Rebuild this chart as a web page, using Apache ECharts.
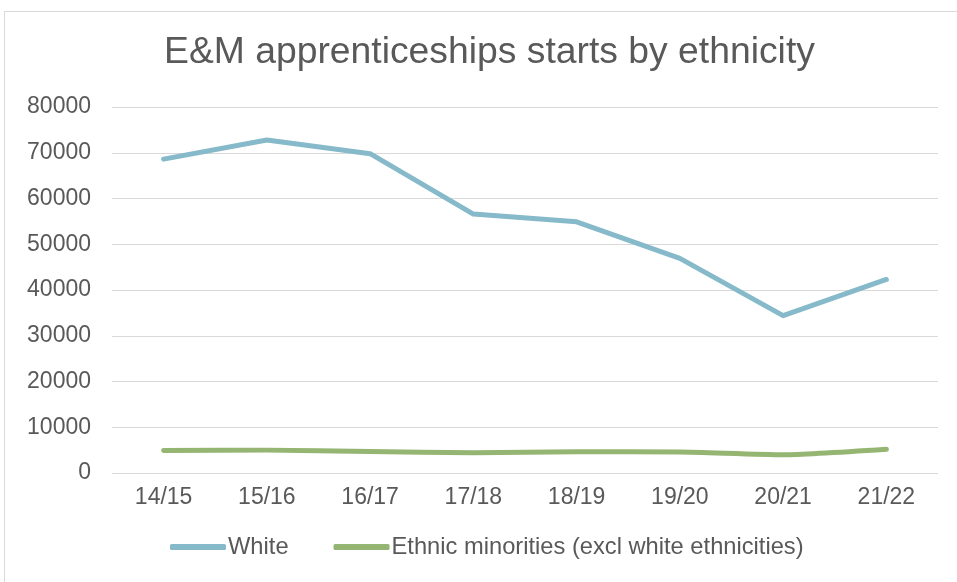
<!DOCTYPE html>
<html>
<head>
<meta charset="utf-8">
<style>
  html, body { margin: 0; padding: 0; background: #fff; }
  #frame { position: absolute; left: 4px; top: 11px; width: 960px; height: 580px; border: 1px solid #d9d9d9; box-sizing: border-box; }
  #chart { position: absolute; left: 0; top: 0; width: 957px; height: 582px; }
</style>
<script src="https://cdn.jsdelivr.net/npm/echarts@6/dist/echarts.min.js"></script>
</head>
<body>
<div id="frame"></div>
<div id="chart"></div>
<script>
// 年度
const years = ["14/15", "15/16", "16/17", "17/18", "18/19", "19/20", "20/21", "21/22"];
// 白人
const whiteStarts = [68600, 72800, 69800, 56600, 54900, 46900, 34400, 42300];
// 少数族裔
const minorityStarts = [4900, 5000, 4700, 4400, 4650, 4600, 4000, 5200];
const yTicks = [0, 80000, 10000]; // min, max, interval

const textColor = "#595959";
const font = "'Liberation Sans', Arial, sans-serif";

const chart = echarts.init(document.getElementById("chart"));

const option = {
  backgroundColor: "transparent",
  animation: false,
  title: {
    text: "E&M apprenticeships starts by ethnicity",
    left: 159,
    top: 29,
    textStyle: { color: textColor, fontSize: 37.3, fontWeight: "normal", fontFamily: font },
  },
  legend: {
    bottom: 18,
    left: 165,
    itemWidth: 56,
    itemHeight: 6,
    itemGap: 45,
    icon: "roundRect",
    textStyle: { color: textColor, fontSize: 23.7, fontFamily: font, padding: [0, 0, 0, -3] },
    data: ["White", "Ethnic minorities (excl white ethnicities)"],
  },
  grid: { left: 112, right: 19, top: 107, bottom: 109 },
  xAxis: {
    type: "category",
    data: years,
    axisLine: { show: false },
    axisTick: { show: false },
    axisLabel: { color: textColor, fontSize: 23, fontFamily: font, margin: 13 },
  },
  yAxis: {
    type: "value",
    min: yTicks[0],
    max: yTicks[1],
    interval: yTicks[2],
    axisLine: { show: false },
    axisTick: { show: false },
    axisLabel: { color: textColor, fontSize: 23, fontFamily: font, margin: 21, formatter: (v) => String(v) },
    splitLine: { lineStyle: { color: "#d9d9d9", width: 1 } },
  },
  series: [
    {
      name: "White",
      type: "line",
      data: whiteStarts,
      symbol: "none",
      color: "#86b9ca",
      lineStyle: { width: 5, cap: "round", join: "round" },
    },
    {
      name: "Ethnic minorities (excl white ethnicities)",
      type: "line",
      data: minorityStarts,
      symbol: "none",
      smooth: 0.2,
      color: "#95b572",
      lineStyle: { width: 5, cap: "round", join: "round" },
    },
  ],
};

chart.setOption(option);
window.addEventListener("resize", () => chart.resize());
</script>
</body>
</html>
